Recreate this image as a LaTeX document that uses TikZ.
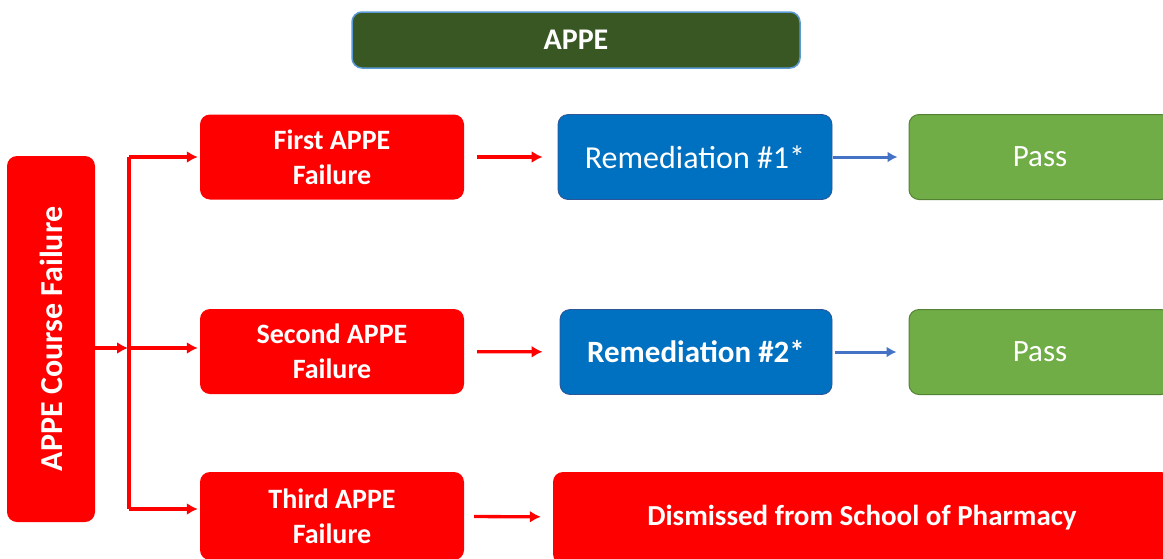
\documentclass[tikz,border=0pt]{standalone}
\usepackage{graphicx}
\usepackage{fontspec}
\setmainfont{Carlito}
\usepackage{tikz}
\usetikzlibrary{calc}
\usetikzlibrary{arrows.meta}
\usetikzlibrary{positioning}
\definecolor{failred}{RGB}{255, 0, 0}
\definecolor{appegreen}{RGB}{56, 87, 35}
\definecolor{appeedge}{RGB}{91, 155, 213}
\definecolor{remblue}{RGB}{0, 112, 192}
\definecolor{remedge}{RGB}{47, 85, 151}
\definecolor{passgreen}{RGB}{112, 173, 71}
\definecolor{passedge}{RGB}{84, 130, 53}
\definecolor{arrowblue}{RGB}{68, 114, 196}

\tikzset{
    box/.style={rectangle, rounded corners=10pt, inner sep=0pt, align=center, text=white},
    appebox/.style={box, fill=appegreen, draw=appeedge, line width=1.5pt,
        minimum width=448pt, minimum height=56pt, font=\fontsize{30}{36}\selectfont\bfseries},
    failbox/.style={box, fill=failred, minimum width=264pt, minimum height=85pt,
        font=\fontsize{28}{35}\selectfont\bfseries},
    rembox/.style={box, fill=remblue, draw=remedge, line width=0.8pt,
        minimum height=85pt, font=\fontsize{32}{38}\selectfont},
    passbox/.style={box, fill=passgreen, draw=passedge, line width=1pt,
        minimum width=262pt, minimum height=85pt, font=\fontsize{31}{37}\selectfont},
    redline/.style={failred, line width=3.3pt},
    redarrow/.style={redline, -{Latex[length=11pt, width=12pt]}},
    bluearrow/.style={arrowblue, line width=3pt, -{Latex[length=10pt, width=11pt]}}
}

\begin{document}
\begin{tikzpicture}[x=1pt, y=-1pt]
    \useasboundingbox (0,0) rectangle (1163,558);
    \clip (0,0) rectangle (1163,558);

    \node[appebox] (appe) at (576,40) {APPE};

    \node[box, fill=failred, minimum width=88pt, minimum height=366pt,
          font=\fontsize{32}{38}\selectfont\bfseries] (course) at (51,339)
          {\rotatebox{90}{APPE Course Failure}};

    \node[failbox] (first)  at (332,157)   {First APPE\\Failure};
    \node[failbox] (second) at (332,351.5) {Second APPE\\Failure};
    \node[failbox, minimum height=88pt] (third) at (332,516) {Third APPE\\Failure};

    \node[rembox, minimum width=274pt] (rem1) at (695,157) {Remediation \#1*};
    \node[rembox, minimum width=272pt, font=\fontsize{31}{37}\selectfont\bfseries]
          (rem2) at (696,352) {Remediation \#2*};

    \node[passbox] (pass1) at (1040,157) {Pass};
    \node[passbox] (pass2) at (1040,352) {Pass};

    \node[box, fill=failred, minimum width=618pt, minimum height=92pt,
          font=\fontsize{29}{35}\selectfont\bfseries] (dismiss) at (862,518)
          {Dismissed from School of Pharmacy};

    \coordinate (split) at (129,348);
    \coordinate (thirdin) at ($(third.west)+(0,-7)$);

    \draw[redarrow, shorten >=1pt] (course.east |- split) -- (split);
    \draw[redline] (split |- first.west) -- (split |- thirdin);
    \draw[redarrow, shorten >=2pt] (split |- first.west) -- (first.west);
    \draw[redarrow, shorten >=2pt] (split) -- (split -| second.west);
    \draw[redarrow, shorten >=2pt] (split |- thirdin) -- (thirdin);

    \draw[redarrow, shorten <=13pt, shorten >=15pt] (first) -- (rem1);
    \draw[redarrow, shorten <=13pt, shorten >=17pt] (second) -- (rem2);
    \draw[redarrow, shorten <=10pt, shorten >=12pt] (third) -- (dismiss);

    \draw[bluearrow, shorten <=1pt, shorten >=11pt] (rem1) -- (pass1);
    \draw[bluearrow, shorten <=3pt, shorten >=12pt] (rem2) -- (pass2);
\end{tikzpicture}
\end{document}
